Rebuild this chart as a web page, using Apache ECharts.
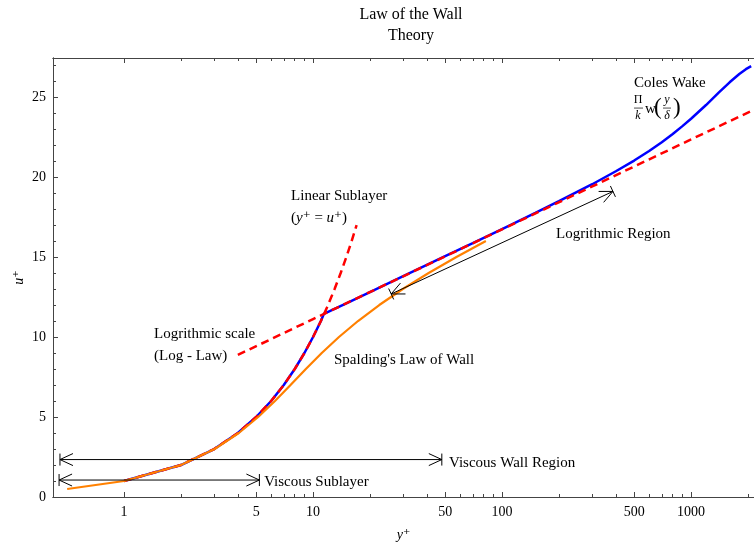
<!DOCTYPE html>
<html>
<head>
<meta charset="utf-8">
<title>Law of the Wall</title>
<script src="https://cdn.jsdelivr.net/npm/echarts@6/dist/echarts.min.js"></script>
<style>
html, body { margin: 0; padding: 0; background: #fff; }
#chart { width: 754px; height: 545px; }
</style>
</head>
<body>
<div id="chart"></div>
<script>
// composite profile (linear sublayer, log law, Coles wake)
var blueY = [1, 2, 3, 4, 5, 6, 7, 8, 9, 10, 11, 11.4, 15, 20, 30, 50, 70, 100, 150, 200, 300, 400, 500, 600, 700, 800, 900, 1000, 1200, 1400, 1600, 1800, 1950, 2080];
var blueU = [1, 2, 3, 4, 5, 6, 7, 8, 9, 10, 11, 11.44, 12.11, 12.81, 13.8, 15.05, 15.87, 16.75, 17.76, 18.49, 19.55, 20.36, 21.03, 21.63, 22.18, 22.69, 23.18, 23.64, 24.5, 25.27, 25.92, 26.44, 26.74, 26.93];

// Spalding's law of the wall
var spaldingY = [0.5, 1, 2.002, 3.013, 4.046, 5.124, 6.287, 7.599, 9.158, 11.116, 13.71, 17.29, 22.4, 29.85, 40.89, 57.37, 82.1];
var spaldingU = [0.5, 1, 2, 3, 4, 5, 6, 7, 8, 9, 10, 11, 12, 13, 14, 15, 16];

// linear sublayer  y+ = u+
var linearY = [1, 2, 3, 4, 5, 6, 7, 8, 9, 10, 11, 12, 13, 14, 15, 16, 17];
var linearU = [1, 2, 3, 4, 5, 6, 7, 8, 9, 10, 11, 12, 13, 14, 15, 16, 17];

// log law
var logLawY = [4.0, 10, 100, 1000, 2154];
var logLawU = [8.88, 11.12, 16.73, 22.35, 24.21];

// tick labels
var xLabelValues = [1, 5, 10, 50, 100, 500, 1000];
var xMinorValues = [2, 3, 4, 6, 7, 8, 9, 20, 30, 40, 60, 70, 80, 90, 200, 300, 400, 600, 700, 800, 900, 2000];
var yLabelValues = [0, 5, 10, 15, 20, 25];
var yMinorValues = [1, 2, 3, 4, 6, 7, 8, 9, 11, 12, 13, 14, 16, 17, 18, 19, 21, 22, 23, 24, 26, 27];

// double arrows [y+, u+]
var arrowFrom = [[0.458, 2.34], [0.453, 1.06], [25.9, 12.69]];
var arrowTo = [[48, 2.34], [5.2, 1.06], [386, 19.1]];

// annotations
var noteText = ['Viscous Wall Region', 'Viscous Sublayer', 'Logrithmic Region', "Spalding's Law of Wall",
    'Logrithmic scale', '(Log - Law)', 'Linear Sublayer', '({i|y}⁺ = {i|u}⁺)', 'Coles Wake', 'formula'];
var notePos = [[52.4, 2.125], [5.51, 0.94], [193, 16.44], [12.9, 8.56],
    [1.44, 10.19], [1.44, 8.81], [7.65, 18.81], [7.65, 17.44], [499, 25.875], [499, 24.31]];

var SERIF = "'Liberation Serif', 'DejaVu Serif', serif";

function lg(v) {
    return Math.log10(v);
}

function pairs(xs, ys) {
    return xs.map(function (x, i) {
        return [lg(x), ys[i]];
    });
}

var chart = echarts.init(document.getElementById('chart'));

var xMin = -0.376, xMax = 3.333;
var axisColor = '#444';

function xAxisOf(pos, ticks, len, withLabels) {
    return {
        type: 'value',
        position: pos,
        min: xMin,
        max: xMax,
        axisLine: { show: true, onZero: false, lineStyle: { color: axisColor, width: 1 } },
        axisTick: { show: true, inside: true, length: len, customValues: ticks.map(lg), lineStyle: { color: axisColor } },
        axisLabel: {
            show: withLabels,
            customValues: xLabelValues.map(lg),
            margin: 8,
            color: '#000',
            fontFamily: SERIF,
            fontSize: 14,
            formatter: function (v) {
                return String(Math.round(Math.pow(10, v)));
            }
        },
        splitLine: { show: false }
    };
}

function yAxisOf(ticks, len, withLabels) {
    return {
        type: 'value',
        position: 'left',
        min: 0,
        max: 27.44,
        axisLine: { show: true, onZero: false, lineStyle: { color: axisColor, width: 1 } },
        axisTick: { show: true, inside: true, length: len, customValues: ticks, lineStyle: { color: axisColor } },
        axisLabel: { show: withLabels, customValues: yLabelValues, margin: 7, color: '#000', fontFamily: SERIF, fontSize: 14 },
        splitLine: { show: false }
    };
}

function arrowHead(tip, from) {
    var dx = from[0] - tip[0], dy = from[1] - tip[1];
    var L = Math.sqrt(dx * dx + dy * dy);
    var ux = dx / L, uy = dy / L, nx = -uy, ny = ux;
    var len = 13, half = 6, bar = 6;
    return [{
        type: 'polyline',
        shape: { points: [[tip[0] + ux * len + nx * half, tip[1] + uy * len + ny * half], [tip[0], tip[1]], [tip[0] + ux * len - nx * half, tip[1] + uy * len - ny * half]] },
        style: { stroke: '#000', fill: null, lineWidth: 1 }
    }, {
        type: 'line',
        shape: { x1: tip[0] + nx * bar, y1: tip[1] + ny * bar, x2: tip[0] - nx * bar, y2: tip[1] - ny * bar },
        style: { stroke: '#000', lineWidth: 1 }
    }];
}

function formula(pt) {
    var x = pt[0], y = pt[1];
    var small = '12px ' + SERIF, smallIt = 'italic 12px ' + SERIF;
    function txt(t, tx, ty, font, align) {
        return { type: 'text', x: tx, y: ty, style: { text: t, font: font, fill: '#000', align: align || 'center', verticalAlign: 'middle' } };
    }
    function bar(x1, x2) {
        return { type: 'line', shape: { x1: x1, y1: y, x2: x2, y2: y }, style: { stroke: '#000', lineWidth: 0.7 } };
    }
    return {
        type: 'group',
        children: [
            txt('Π', x + 4, y - 8, small),
            bar(x, x + 9),
            txt('k', x + 4, y + 8, smallIt),
            txt('w', x + 11, y + 1, '15px ' + SERIF, 'left'),
            txt('(', x + 20, y, '23px ' + SERIF, 'left'),
            txt('y', x + 33, y - 8, smallIt),
            bar(x + 29, x + 37),
            txt('δ', x + 33, y + 8, smallIt),
            txt(')', x + 39, y, '23px ' + SERIF, 'left')
        ]
    };
}

var option = {
    animation: false,
    backgroundColor: '#fff',
    grid: { left: 53, right: 0, top: 58, bottom: 48, containLabel: false, outerBoundsMode: 'none' },
    graphic: [{
        type: 'text',
        x: 411,
        y: 15,
        style: { text: 'Law of the Wall', font: '16px ' + SERIF, fill: '#000', align: 'center', verticalAlign: 'middle' }
    }, {
        type: 'text',
        x: 411,
        y: 36,
        style: { text: 'Theory', font: '16px ' + SERIF, fill: '#000', align: 'center', verticalAlign: 'middle' }
    }],
    xAxis: [
        Object.assign(xAxisOf('bottom', xLabelValues, 5, true), {
            name: 'y⁺',
            nameLocation: 'middle',
            nameGap: 31,
            nameMoveOverlap: false,
            nameTextStyle: { fontFamily: SERIF, fontStyle: 'italic', fontSize: 14, color: '#000' }
        }),
        xAxisOf('bottom', xMinorValues, 3, false),
        xAxisOf('top', xLabelValues, 5, false),
        xAxisOf('top', xMinorValues, 3, false)
    ],
    yAxis: [
        Object.assign(yAxisOf(yLabelValues, 5, true), {
            name: 'u⁺',
            nameLocation: 'middle',
            nameGap: 27,
            nameMoveOverlap: false,
            nameTextStyle: { fontFamily: SERIF, fontStyle: 'italic', fontSize: 14, color: '#000' }
        }),
        yAxisOf(yMinorValues, 3, false)
    ],
    series: [{
        name: 'Composite',
        type: 'line',
        data: pairs(blueY, blueU),
        showSymbol: false,
        symbol: 'none',
        lineStyle: { color: '#0000ff', width: 2.5 },
        z: 2
    }, {
        name: 'Linear Sublayer',
        type: 'line',
        data: pairs(linearY, linearU),
        showSymbol: false,
        symbol: 'none',
        lineStyle: { color: '#ff0000', width: 2.5, type: [8, 5] },
        z: 3
    }, {
        name: 'Log Law',
        type: 'line',
        data: pairs(logLawY, logLawU),
        showSymbol: false,
        symbol: 'none',
        lineStyle: { color: '#ff0000', width: 2.5, type: [8, 5] },
        z: 3
    }, {
        name: 'Spalding',
        type: 'line',
        data: pairs(spaldingY, spaldingU),
        showSymbol: false,
        symbol: 'none',
        lineStyle: { color: '#ff8000', width: 2.2 },
        z: 4
    }, {
        name: 'Arrows',
        type: 'custom',
        coordinateSystem: 'cartesian2d',
        silent: true,
        z: 6,
        encode: { x: [0, 2], y: [1, 3] },
        data: arrowFrom.map(function (a, i) {
            return [lg(a[0]), a[1], lg(arrowTo[i][0]), arrowTo[i][1]];
        }),
        renderItem: function (params, api) {
            var p = api.coord([api.value(0), api.value(1)]);
            var q = api.coord([api.value(2), api.value(3)]);
            var children = [{
                type: 'line',
                shape: { x1: p[0], y1: p[1], x2: q[0], y2: q[1] },
                style: { stroke: '#000', lineWidth: 1 }
            }];
            children = children.concat(arrowHead(p, q), arrowHead(q, p));
            return { type: 'group', children: children };
        }
    }, {
        name: 'Notes',
        type: 'custom',
        coordinateSystem: 'cartesian2d',
        silent: true,
        clip: false,
        z: 7,
        data: notePos.map(function (p, i) {
            return [lg(p[0]), p[1], i];
        }),
        renderItem: function (params, api) {
            var pt = api.coord([api.value(0), api.value(1)]);
            var t = noteText[api.value(2)];
            if (t === 'formula') {
                return formula(pt);
            }
            return {
                type: 'text',
                x: pt[0],
                y: pt[1],
                style: {
                    text: t,
                    font: '15px ' + SERIF,
                    fill: '#000',
                    align: 'left',
                    verticalAlign: 'middle',
                    rich: { i: { fontStyle: 'italic', fontFamily: SERIF, fontSize: 15 } }
                }
            };
        }
    }]
};

chart.setOption(option);
</script>
</body>
</html>
